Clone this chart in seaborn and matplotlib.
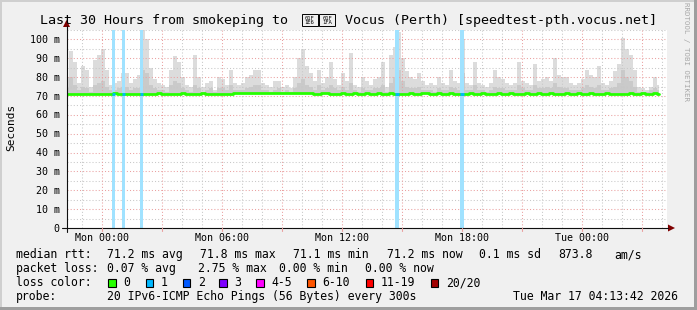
import numpy as np
import pandas as pd
import matplotlib
matplotlib.use("Agg")
import matplotlib.pyplot as plt
import seaborn as sns
from matplotlib.patches import Rectangle, Polygon
from matplotlib.lines import Line2D

sns.set_theme(style="white")
plt.rcParams['font.family'] = ['DejaVu Sans Mono', 'DejaVu Sans']

# ---------------- data ----------------
first_sample_h = -1.75      # hours relative to Mon 00:00
sample_step_h = 0.2         # 12-minute samples

smoke_max = [
    80, 94, 88, 77, 86, 84, 75, 89, 92, 95,
    84, 76, 77, 78, 82, 82, 77, 79, 81, 105,
    100, 85, 79, 77, 76, 75, 84, 91, 88, 80,
    76, 75, 92, 80, 75, 77, 78, 73, 80, 79,
    76, 84, 77, 76, 77, 80, 81, 84, 84, 77,
    76, 75, 78, 78, 75, 76, 74, 80, 90, 95,
    86, 82, 78, 84, 77, 80, 88, 79, 76, 82,
    78, 93, 76, 75, 80, 78, 76, 79, 80, 88,
    75, 92, 96, 104, 90, 83, 80, 79, 82, 78,
    76, 77, 76, 80, 77, 76, 84, 78, 77, 100,
    77, 76, 88, 77, 76, 75, 77, 84, 80, 79,
    77, 76, 77, 88, 78, 77, 76, 87, 78, 79,
    80, 78, 90, 81, 80, 80, 77, 76, 77, 79,
    84, 81, 80, 86, 77, 76, 78, 83, 87, 101,
    95, 92, 84, 75, 74, 73, 75, 80, 76,
]
smoke_mid = [
    74, 80, 76, 73, 75, 74, 72, 76, 77, 78,
    75, 73, 73, 74, 75, 75, 73, 74, 74, 84,
    82, 76, 74, 73, 73, 72, 76, 78, 77, 74,
    73, 72, 76, 74, 72, 73, 74, 72, 74, 74,
    73, 76, 73, 73, 73, 74, 75, 76, 76, 73,
    73, 72, 73, 74, 72, 73, 72, 74, 77, 79,
    76, 75, 73, 76, 73, 74, 76, 74, 73, 75,
    73, 77, 73, 72, 74, 73, 73, 74, 74, 76,
    72, 77, 80, 84, 78, 75, 74, 74, 75, 73,
    73, 73, 72, 74, 73, 73, 75, 74, 73, 82,
    73, 73, 76, 73, 73, 72, 73, 75, 74, 74,
    73, 73, 73, 76, 74, 73, 73, 76, 74, 74,
    75, 74, 77, 75, 74, 74, 73, 73, 73, 74,
    76, 75, 74, 76, 73, 73, 74, 75, 77, 84,
    80, 78, 75, 72, 72, 72, 73, 74, 73,
]
median_rtt = [
    71.1, 71.1, 71.1, 71.1, 71.1, 71.1, 71.1, 71.1, 71.1, 71.1,
    71.1, 71.1, 71.4, 71.2, 71.1, 71.1, 71.1, 71.2, 71.2, 71.1,
    71.1, 71.1, 71.2, 71.5, 71.2, 71.2, 71.2, 71.2, 71.3, 71.5,
    71.3, 71.2, 71.2, 71.2, 71.5, 71.3, 71.2, 71.2, 71.2, 71.3,
    71.2, 71.2, 71.5, 71.6, 71.6, 71.6, 71.6, 71.6, 71.6, 71.7,
    71.7, 71.7, 71.7, 71.7, 71.7, 71.7, 71.8, 71.7, 71.7, 71.7,
    71.4, 71.4, 71.2, 71.2, 71.4, 71.4, 71.3, 71.2, 71.2, 71.4,
    71.2, 71.2, 71.4, 71.2, 71.2, 71.4, 71.2, 71.2, 71.4, 71.2,
    71.2, 71.4, 71.2, 71.1, 71.2, 71.2, 71.4, 71.2, 71.2, 71.4,
    71.6, 71.3, 71.2, 71.4, 71.2, 71.2, 71.4, 71.2, 71.2, 71.1,
    71.2, 71.4, 71.2, 71.2, 71.4, 71.2, 71.1, 71.2, 71.4, 71.2,
    71.2, 71.4, 71.2, 71.2, 71.2, 71.4, 71.2, 71.2, 71.4, 71.2,
    71.2, 71.4, 71.2, 71.1, 71.2, 71.4, 71.2, 71.2, 71.4, 71.2,
    71.2, 71.4, 71.2, 71.1, 71.2, 71.4, 71.2, 71.2, 71.3, 71.2,
    71.2, 71.4, 71.2, 71.2, 71.4, 71.2, 71.2, 71.4, 71.2,
]
loss_hours = [0.575, 1.075, 1.985, 14.75, 18.0]   # one lost ping
loss_width_h = 0.17

x_tick_hours = [0, 6, 12, 18, 24]
x_tick_labels = ["Mon 00:00", "Mon 06:00", "Mon 12:00", "Mon 18:00", "Tue 00:00"]
y_tick_values = [0, 10, 20, 30, 40, 50, 60, 70, 80, 90, 100]
y_tick_labels = ["0", "10 m", "20 m", "30 m", "40 m", "50 m", "60 m",
                 "70 m", "80 m", "90 m", "100 m"]

title_left = "Last 30 Hours from smokeping to"
# the flag emoji (U+1F1E6 U+1F1FA) has no glyph in any installed font:
# drawn as "missing glyph" hex boxes like the reference
title_flag_codes = [("01F", "1E6"), ("01F", "1FA")]
title_right = "Vocus (Perth) [speedtest-pth.vocus.net]"

median_row = [("median rtt:", 16), ("71.2 ms avg", 107.3), ("71.8 ms max", 200),
              ("71.1 ms min", 293.3), ("71.2 ms now", 386.7), ("0.1 ms sd", 479.3),
              ("873.8", 558.3), ("am/s", 614.3)]
loss_row = [("packet loss:", 16), ("0.07 % avg", 107.3), ("2.75 % max", 198),
            ("0.00 % min", 279.3), ("0.00 % now", 365)]
loss_color_labels = ["0", "1", "2", "3", "4-5", "6-10", "11-19", "20/20"]
loss_color_values = ["#26ff00", "#00b8ff", "#0059ff", "#7e00ff", "#ff00ff",
                     "#ff5500", "#ff0000", "#a10000"]
loss_color_box_x = [108.3, 145.7, 182.7, 219.3, 256, 307.3, 365.7, 430.7]
probe_text = "20 IPv6-ICMP Echo Pings (56 Bytes) every 300s"
stamp_text = "Tue Mar 17 04:13:42 2026"

# ---------------- figure ----------------
W, H = 697, 310
fig = plt.figure(figsize=(W / 100, H / 100), dpi=100, facecolor="#f0f0f0")

def fx(px):
    return px / W

def fy(py):
    return 1 - py / H

AX_L, AX_R, AX_T, AX_B = 66.5, 666.5, 30, 228
ax = fig.add_axes([fx(AX_L), fy(AX_B), (AX_R - AX_L) / W, (AX_B - AX_T) / H])
ax.set_facecolor("white")
XMIN, XMAX, YMAX = -1.775, 28.225, 105
ax.set_xlim(XMIN, XMAX)
ax.set_ylim(0, YMAX)
for s in ax.spines.values():
    s.set_visible(False)
ax.set_xticks([])
ax.set_yticks([])

def px_x(h):
    return AX_L + (h - XMIN) / (XMAX - XMIN) * (AX_R - AX_L)

def px_y(v):
    return AX_B - v / YMAX * (AX_B - AX_T)

hours = first_sample_h + sample_step_h * np.arange(len(smoke_max))
base = 70.8

# smoke
ax.fill_between(hours, base, smoke_max, step="mid", color="#dcdcdc", lw=0, zorder=1)
ax.fill_between(hours, base, smoke_mid, step="mid", color="#cacaca", lw=0, zorder=1.1)

# grid
dash = (0, (1, 2))
minor_col, major_col = "#c8c8c8", "#eaa0a0"
for v in np.arange(5, YMAX + 0.1, 5):
    major = (v % 10 == 0)
    ax.axhline(v, color=major_col if major else minor_col, lw=0.75, ls=dash, zorder=2)
for h in range(int(np.ceil(XMIN)), int(np.floor(XMAX)) + 1):
    major = (h % 3 == 0)
    ax.axvline(h, color=major_col if major else minor_col, lw=0.75, ls=dash, zorder=2)

# loss bars (above grid)
for h in loss_hours:
    ax.axvspan(h - loss_width_h / 2, h + loss_width_h / 2, color="#a0e2ff", lw=0, zorder=3)

# median line
df = pd.DataFrame({"hour": hours, "rtt": median_rtt})
sns.lineplot(data=df, x="hour", y="rtt", color="#26ff00", lw=2.0,
             drawstyle="steps-mid", ax=ax, zorder=4)
for h in loss_hours:
    v = np.interp(h, hours, median_rtt)
    ax.plot([h - loss_width_h / 2, h + loss_width_h / 2], [v, v], color="#00b8ff",
            lw=2.0, solid_capstyle="butt", zorder=5)
ax.set_xlabel("")
ax.set_ylabel("")

# axes lines + arrows
ax_col = "#101010"
arrow_col = "#7f0000"
fig.add_artist(Line2D([fx(62), fx(668)], [fy(AX_B), fy(AX_B)], color=ax_col, lw=0.8))
fig.add_artist(Line2D([fx(AX_L), fx(AX_L)], [fy(232), fy(26)], color=ax_col, lw=0.8))
fig.add_artist(Polygon([[fx(668), fy(AX_B - 3.5)], [fx(668), fy(AX_B + 3.5)], [fx(675), fy(AX_B)]],
                       closed=True, color=arrow_col, lw=0))
fig.add_artist(Polygon([[fx(AX_L - 3.5), fy(27)], [fx(AX_L + 3.5), fy(27)], [fx(AX_L), fy(20)]],
                       closed=True, color=arrow_col, lw=0))
for h in range(int(np.ceil(XMIN)), int(np.floor(XMAX)) + 1):
    if h % 3 == 0:
        fig.add_artist(Line2D([fx(px_x(h)), fx(px_x(h))], [fy(AX_B), fy(AX_B + 3)],
                              color=major_col, lw=0.8))

# tick labels
tick_fs = 7.2
for h, lab in zip(x_tick_hours, x_tick_labels):
    fig.text(fx(px_x(h)), fy(240.7), lab, ha="center", va="baseline", fontsize=tick_fs, color="black")
for v, lab in zip(y_tick_values, y_tick_labels):
    fig.text(fx(59.5), fy(px_y(v) + 3.6), lab, ha="right", va="baseline", fontsize=tick_fs, color="black")

fig.text(fx(11), fy(127), "Seconds", rotation=90, ha="center", va="center", fontsize=8, color="black")

# title
title_fs = 9.6
fig.text(fx(40), fy(24), title_left, ha="left", va="baseline", fontsize=title_fs, color="black")
for (top, bottom), bx in zip(title_flag_codes, [301.7, 319.2]):
    fig.add_artist(Rectangle((fx(bx), fy(25.7)), 15.8 / W, 11.7 / H, facecolor="none",
                             edgecolor="black", lw=0.7))
    fig.text(fx(bx + 7.9), fy(18.3), top, ha="center", va="center", fontsize=4.0, color="black")
    fig.text(fx(bx + 7.9), fy(22.5), bottom, ha="center", va="center", fontsize=4.0, color="black")
fig.text(fx(345), fy(24), title_right, ha="left", va="baseline", fontsize=title_fs, color="black")

# side credit
fig.text(fx(686), fy(52), "RRDTOOL / TOBI OETIKER", rotation=270, ha="center", va="center",
         fontsize=5.3, color="#a8a8a8")

# legend
leg_fs = 8.3
rows_y = [258.3, 272.3, 286.3, 300.3]
for txt, x in median_row:
    fig.text(fx(x), fy(rows_y[0]), txt, ha="left", va="baseline", fontsize=leg_fs, color="black")
for txt, x in loss_row:
    fig.text(fx(x), fy(rows_y[1]), txt, ha="left", va="baseline", fontsize=leg_fs, color="black")
fig.text(fx(16), fy(rows_y[2]), "loss color:", ha="left", va="baseline", fontsize=leg_fs, color="black")
for lab, col, bx in zip(loss_color_labels, loss_color_values, loss_color_box_x):
    fig.add_artist(Rectangle((fx(bx), fy(287)), 7.7 / W, 8 / H, facecolor=col,
                             edgecolor="black", lw=0.8))
    fig.text(fx(bx + 15), fy(rows_y[2]), lab, ha="left", va="baseline", fontsize=leg_fs, color="black")
fig.text(fx(16), fy(rows_y[3]), "probe:", ha="left", va="baseline", fontsize=leg_fs, color="black")
fig.text(fx(107.3), fy(rows_y[3]), probe_text, ha="left", va="baseline", fontsize=leg_fs, color="black")
fig.text(fx(513.3), fy(rows_y[3]), stamp_text, ha="left", va="baseline", fontsize=leg_fs, color="black")

# 3D border
fig.add_artist(Rectangle((0, fy(2)), 1, 2 / H, facecolor="#cfcfcf", lw=0))
fig.add_artist(Rectangle((0, 0), 2 / W, 1, facecolor="#cfcfcf", lw=0))
fig.add_artist(Rectangle((fx(694), 0), 3 / W, 1, facecolor="#9e9e9e", lw=0))
fig.add_artist(Rectangle((0, 0), 1, 3 / H, facecolor="#9e9e9e", lw=0))

fig.savefig("out.png", dpi=100, facecolor=fig.get_facecolor())
